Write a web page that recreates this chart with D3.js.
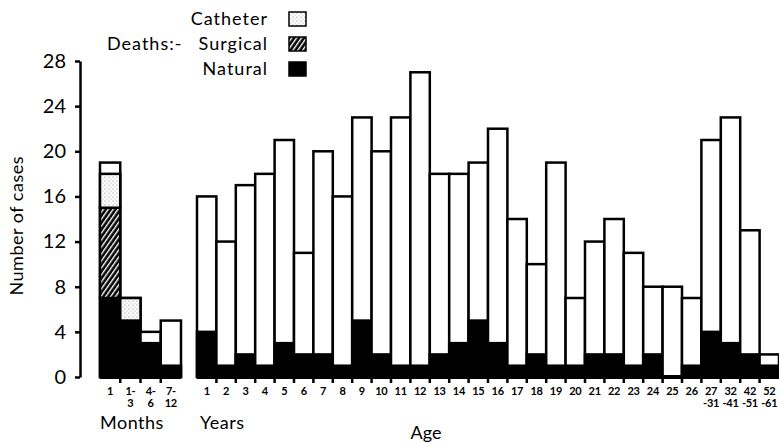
<!DOCTYPE html>
<html>
<head>
<meta charset="utf-8">
<script src="https://cdn.jsdelivr.net/npm/d3@7"></script>
<style>
  body { margin: 0; background: #fff; }
  svg text { font-family: "Lato", "Open Sans", sans-serif; fill: #000; }
</style>
</head>
<body>
<svg id="chart" width="779" height="442"></svg>
<script>
// values
let monthCats = ["1", "1-3", "4-6", "7-12"]
let monthTotal = [19, 7, 4, 5]
let monthNatural = [7, 5, 3, 1]
let monthSurgical = [8, 0, 0, 0]
let monthCatheter = [3, 2, 0, 0]

let yearCats = ["1","2","3","4","5","6","7","8","9","10","11","12","13","14","15","16","17","18","19","20",
  "21","22","23","24","25","26","27-31","32-41","42-51","52-61"]
let yearTotal = [16,12,17,18,21,11,20,16,23,20,23,27,18,18,19,22,14,10,19,7,12,14,11,8,8,7,21,23,13,2]
let yearNatural = [4,1,2,1,3,2,2,1,5,2,1,1,2,3,5,3,1,2,1,1,2,2,1,2,0,1,4,3,2,1]

let yTicks = [0, 4, 8, 12, 16, 20, 24, 28]

let margin = { top: 61, bottom: 65 },
  height = 442 - margin.top - margin.bottom

let svg = d3.select('#chart')

// patterns for catheter (stipple) and surgical (hatch)
let defs = svg.append('defs')
let dots = defs.append('pattern')
  .attr('id', 'dots').attr('patternUnits', 'userSpaceOnUse')
  .attr('width', 4).attr('height', 4)
dots.append('rect').attr('width', 4).attr('height', 4).attr('fill', '#fff')
dots.append('circle').attr('cx', 1).attr('cy', 1).attr('r', 0.6).attr('fill', '#777')
dots.append('circle').attr('cx', 3).attr('cy', 3).attr('r', 0.5).attr('fill', '#999')

let hatch = defs.append('pattern')
  .attr('id', 'hatch').attr('patternUnits', 'userSpaceOnUse')
  .attr('width', 4).attr('height', 4)
  .attr('patternTransform', 'rotate(35)')
hatch.append('rect').attr('width', 4).attr('height', 4).attr('fill', '#000')
hatch.append('rect').attr('x', 0).attr('width', 1.4).attr('height', 4).attr('fill', '#fff')

let yScale = d3.scaleLinear().domain([0, 28]).range([margin.top + height, margin.top])

let xMonths = d3.scaleBand().domain(monthCats).range([100, 181]).padding(0)
let xYears = d3.scaleBand().domain(yearCats).range([197, 779]).padding(0)

// y axis
let yAxis = svg.append('g')
  .attr('transform', 'translate(80,0)')
  .call(d3.axisLeft(yScale).tickValues(yTicks).tickSize(5).tickPadding(9).tickSizeOuter(0))
yAxis.select('.domain').attr('stroke-width', 2.5)
yAxis.selectAll('.tick line').attr('stroke-width', 2.5)
yAxis.selectAll('.tick text').style('font-size', '20px').style('font-family', 'Lato, sans-serif')

svg.append('text')
  .attr('transform', 'translate(23,' + yScale(13.4) + ') rotate(-90)')
  .attr('text-anchor', 'middle')
  .style('font-size', '18px')
  .style('letter-spacing', '0.5px')
  .text('Number of cases')

function drawSeg(x, cat, y0, y1, fill) {
  if (y1 <= y0) return
  svg.append('rect')
    .attr('x', x(cat))
    .attr('y', yScale(y1))
    .attr('width', x.bandwidth())
    .attr('height', yScale(y0) - yScale(y1))
    .attr('fill', fill)
    .attr('stroke', '#000')
    .attr('stroke-width', 2.5)
}

// months group
monthCats.forEach(function(c, i) {
  drawSeg(xMonths, c, 0, monthTotal[i], '#fff')
  let n = monthNatural[i], s = monthSurgical[i], k = monthCatheter[i]
  drawSeg(xMonths, c, 0, n, '#000')
  drawSeg(xMonths, c, n, n + s, 'url(#hatch)')
  drawSeg(xMonths, c, n + s, n + s + k, 'url(#dots)')
})

// years group
yearCats.forEach(function(c, i) {
  drawSeg(xYears, c, 0, yearTotal[i], '#fff')
  drawSeg(xYears, c, 0, yearNatural[i], '#000')
})

// baselines with ticks at bar boundaries
function baseline(x, cats) {
  let r = x.range()
  svg.append('line')
    .attr('x1', r[0]).attr('x2', r[1])
    .attr('y1', yScale(0)).attr('y2', yScale(0))
    .attr('stroke', '#000').attr('stroke-width', 4)
  cats.slice(1).forEach(function(c) {
    svg.append('line')
      .attr('x1', x(c)).attr('x2', x(c))
      .attr('y1', yScale(0)).attr('y2', yScale(0) + 6)
      .attr('stroke', '#000').attr('stroke-width', 2.5)
  })
}
baseline(xMonths, monthCats)
baseline(xYears, yearCats)

// category labels; ranges are split over two separate text lines
function catLabels(x, cats, dash) {
  let g = svg.append('g')
    .style('font-size', '11px')
    .style('font-weight', 'bold')
  cats.forEach(function(c) {
    let parts = c.split('-')
    let cx = x(c) + x.bandwidth() / 2
    let lines = parts.length === 1 ? [c]
      : dash === 'first' ? [parts[0] + '-', parts[1]]
      : [parts[0], '-' + parts[1]]
    lines.forEach(function(s, j) {
      g.append('text')
        .attr('x', cx)
        .attr('y', yScale(0) + 18 + j * 12)
        .attr('text-anchor', 'middle')
        .style('letter-spacing', '-0.3px')
        .text(s)
    })
  })
}
catLabels(xMonths, monthCats, 'first')
catLabels(xYears, yearCats, 'second')

svg.append('text').attr('x', 100).attr('y', 429).style('font-size', '18px').style('letter-spacing', '0.5px').text('Months')
svg.append('text').attr('x', 200).attr('y', 429).style('font-size', '18px').style('letter-spacing', '0.5px').text('Years')
svg.append('text').attr('x', 426).attr('y', 439).attr('text-anchor', 'middle').style('font-size', '18px').text('Age')

// legend
let legend = [
  { label: 'Catheter', fill: 'url(#dots)' },
  { label: 'Surgical', fill: 'url(#hatch)' },
  { label: 'Natural', fill: '#000' }
]
legend.forEach(function(d, i) {
  let y = 19 + i * 25
  svg.append('text')
    .attr('x', 268).attr('y', y + 6)
    .attr('text-anchor', 'end')
    .style('font-size', '18px')
    .style('letter-spacing', '1px')
    .text(d.label)
  svg.append('rect')
    .attr('x', 289).attr('y', y - 7)
    .attr('width', 17).attr('height', 14)
    .attr('fill', d.fill)
    .attr('stroke', '#000').attr('stroke-width', 1.5)
})
svg.append('text')
  .attr('x', 107).attr('y', 50)
  .style('font-size', '18px')
  .style('letter-spacing', '1px')
  .text('Deaths:-')
</script>
</body>
</html>
